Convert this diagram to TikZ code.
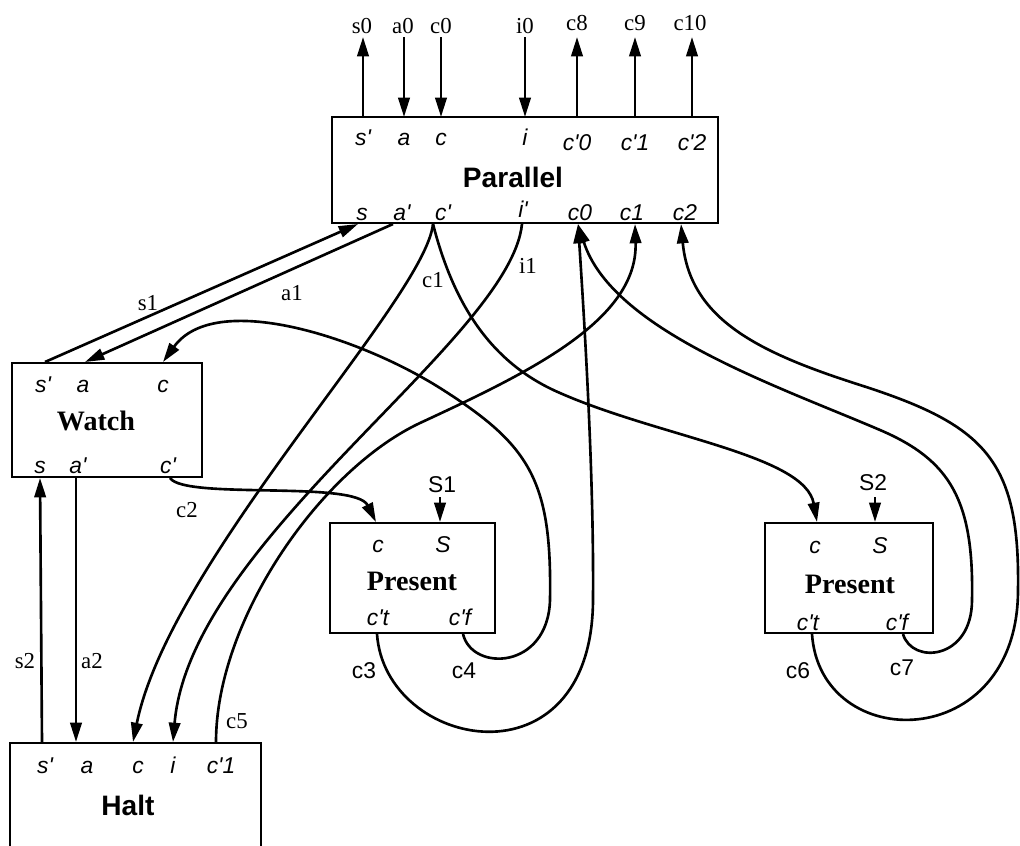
\documentclass[tikz,border=0pt]{standalone}
\usepackage{fontspec}
\setmainfont{Liberation Serif}
\setsansfont{Liberation Sans}
\newfontfamily\pf{Liberation Sans}
\usetikzlibrary{arrows.meta}
\begin{document}
\begin{tikzpicture}[x=0.02cm,y=-0.02cm, line width=1.5pt,
  box/.style={draw, line width=1.5pt, anchor=north west, inner sep=0pt, outer sep=0pt},
  port/.style={font=\pf\itshape\fontsize{13}{13}\selectfont, inner sep=0pt, anchor=base},
  lab/.style={font=\rmfamily\fontsize{13}{13}\selectfont, inner sep=0pt, anchor=base},
  slab/.style={font=\pf\fontsize{13}{13}\selectfont, inner sep=0pt, anchor=base},
  bname/.style={font=\rmfamily\bfseries\fontsize{16}{16}\selectfont, inner sep=0pt, anchor=base},
  sname/.style={font=\pf\bfseries\fontsize{16}{16}\selectfont, inner sep=0pt, anchor=base},
  arr/.style={-{Triangle[length=11pt,width=6.5pt]}},
  wire/.style={line width=1.5pt}
]
\useasboundingbox (0,0) rectangle (1020,845);

% ---------- boxes ----------
\node[box, minimum width=7.72cm, minimum height=2.12cm] (par) at (332,117) {};
\node[box, minimum width=3.8cm, minimum height=2.28cm] (wat) at (12,363) {};
\node[box, minimum width=3.3cm, minimum height=2.2cm] (pr1) at (330,523) {};
\node[box, minimum width=3.36cm, minimum height=2.2cm] (pr2) at (765,523) {};
\begin{scope}
\clip (0,0) rectangle (1020,845);
\node[box, minimum width=5.02cm, minimum height=2.6cm] (hal) at (10,743) {};
\end{scope}

% ---------- box names ----------
\node[sname] (parname) at (513,187) {Parallel};
\node[bname] (watname) at (96,430) {Watch};
\node[bname] (pr1name) at (412,590) {Present};
\node[bname] (pr2name) at (850,593) {Present};
\node[sname] (halname) at (128,815) {Halt};

% ---------- port labels ----------
\node[port] (lp1) at (363,145) {s'};
\node[port] (lp2) at (404,145) {a};
\node[port] (lp3) at (441,145) {c};
\node[port] (lp4) at (525,145) {i};
\node[port] (lp5) at (577,150) {c'0};
\node[port] (lp6) at (635,150) {c'1};
\node[port] (lp7) at (692,150) {c'2};
\node[port] (lp8) at (362,220) {s};
\node[port] (lp9) at (402,220) {a'};
\node[port] (lp10) at (443,220) {c'};
\node[port] (lp11) at (523,217) {i'};
\node[port] (lp12) at (580,220) {c0};
\node[port] (lp13) at (632,220) {c1};
\node[port] (lp14) at (685,220) {c2};

\node[port] (lw1) at (43,392) {s'};
\node[port] (lw2) at (83,392) {a};
\node[port] (lw3) at (163,392) {c};
\node[port] (lw4) at (40,473) {s};
\node[port] (lw5) at (78,473) {a'};
\node[port] (lw6) at (168,473) {c'};

\node[port] (lq1) at (378,552) {c};
\node[port] (lq2) at (443,552) {S};
\node[port] (lq3) at (378,625) {c't};
\node[port] (lq4) at (460,625) {c'f};

\node[port] (lr1) at (815,553) {c};
\node[port] (lr2) at (880,553) {S};
\node[port] (lr3) at (808,630) {c't};
\node[port] (lr4) at (897,630) {c'f};

\node[port] (lh1) at (45,773) {s'};
\node[port] (lh2) at (87,773) {a};
\node[port] (lh3) at (138,773) {c};
\node[port] (lh4) at (173,773) {i};
\node[port] (lh5) at (221,773) {c'1};

% ---------- port coordinates ----------
\coordinate (par-ts) at (363,117);
\coordinate (par-ta) at (404,117);
\coordinate (par-tc) at (441,117);
\coordinate (par-ti) at (525,117);
\coordinate (par-tc0) at (577,117);
\coordinate (par-tc1) at (635,117);
\coordinate (par-tc2) at (692,117);
\coordinate (ext-s0) at (363,37);
\coordinate (ext-a0) at (404,37);
\coordinate (ext-c0) at (441,37);
\coordinate (ext-i0) at (525,37);
\coordinate (ext-c8) at (577,37);
\coordinate (ext-c9) at (635,37);
\coordinate (ext-c10) at (692,37);

\coordinate (par-s) at (358,224);
\coordinate (par-a) at (393,224);
\coordinate (par-c) at (433,224);
\coordinate (par-i) at (522,224);
\coordinate (par-c0) at (578,224);
\coordinate (par-c1) at (635,224);
\coordinate (par-c2) at (681,224);

\coordinate (wat-s) at (45,362);
\coordinate (wat-a) at (85,362);
\coordinate (wat-c) at (163,362);
\coordinate (wat-bs) at (40,478);
\coordinate (wat-ba) at (76,478);
\coordinate (wat-bc) at (170,478);

\coordinate (hal-s) at (42,742);
\coordinate (hal-a) at (76,742);
\coordinate (hal-c) at (133,742);
\coordinate (hal-i) at (173,742);
\coordinate (hal-c1) at (216,742);

\coordinate (p1-c) at (376,522);
\coordinate (p1-S) at (440,522);
\coordinate (p1-Sx) at (440,497);
\coordinate (p1-t) at (377,634);
\coordinate (p1-f) at (463,634);

\coordinate (p2-c) at (817,522);
\coordinate (p2-S) at (875,522);
\coordinate (p2-Sx) at (875,497);
\coordinate (p2-t) at (812,634);
\coordinate (p2-f) at (903,634);

% ---------- top wires ----------
\draw[wire,arr] (par-ts) -- (ext-s0);
\draw[wire,arr] (ext-a0) -- (par-ta);
\draw[wire,arr] (ext-c0) -- (par-tc);
\draw[wire,arr] (ext-i0) -- (par-ti);
\draw[wire,arr] (par-tc0) -- (ext-c8);
\draw[wire,arr] (par-tc1) -- (ext-c9);
\draw[wire,arr] (par-tc2) -- (ext-c10);

\node[lab] (t1) at (362,33) {s0};
\node[lab] (t2) at (403,33) {a0};
\node[lab] (t3) at (441,33) {c0};
\node[lab] (t4) at (525,33) {i0};
\node[lab] (t5) at (577,31) {c8};
\node[lab] (t6) at (635,31) {c9};
\node[lab] (t7) at (690,31) {c10};

% ---------- signal inputs ----------
\draw[wire,arr] (p1-Sx) -- (p1-S);
\draw[wire,arr] (p2-Sx) -- (p2-S);
\node[slab] (S1) at (442,492) {S1};
\node[slab] (S2) at (873,490) {S2};

% ---------- connections ----------
\draw[wire,arr] (wat-s) -- (par-s);
\draw[wire,arr] (par-a) -- (wat-a);
\draw[wire,arr] (hal-s) -- (wat-bs);
\draw[wire,arr] (wat-ba) -- (hal-a);

\draw[wire,arr] (wat-bc) .. controls (185,500) and (355,480) .. (p1-c);
\draw[wire,arr] (par-c) .. controls (425,300) and (170,560) .. (hal-c);
\draw[wire,arr] (par-c) .. controls (455,310) and (495,365) .. (560,393)
   .. controls (660,437) and (805,455) .. (p2-c);
\draw[wire,arr] (par-i) .. controls (510,340) and (190,540) .. (hal-i);
\draw[wire,arr] (hal-c1) .. controls (216,620) and (320,470) .. (420,423)
   .. controls (530,372) and (638,320) .. (par-c1);
\draw[wire,arr] (p1-t) .. controls (385,750) and (592,790) .. (593,600)
   .. controls (594,480) and (585,330) .. (par-c0);
\draw[wire,arr] (p1-f) .. controls (472,672) and (548,670) .. (550,600)
   .. controls (552,480) and (530,445) .. (440,388)
   .. controls (359,337) and (215,290) .. (wat-c);
\draw[wire,arr] (p2-f) .. controls (912,665) and (972,660) .. (972,600)
   .. controls (974,500) and (950,460) .. (880,430)
   .. controls (775,385) and (612,330) .. (par-c0);
\draw[wire,arr] (p2-t) .. controls (820,755) and (1018,755) .. (1018,590)
   .. controls (1020,460) and (985,425) .. (860,385)
   .. controls (760,353) and (690,320) .. (par-c2);

% ---------- wire labels ----------
\node[lab] (ls1) at (148,310) {s1};
\node[lab] (la1) at (292,300) {a1};
\node[lab] (lc1) at (433,287) {c1};
\node[lab] (li1) at (528,273) {i1};
\node[lab] (lc2) at (187,517) {c2};
\node[slab] (lc3) at (364,678) {c3};
\node[slab] (lc4) at (464,678) {c4};
\node[lab] (lc5) at (237,728) {c5};
\node[slab] (lc6) at (798,678) {c6};
\node[slab] (lc7) at (902,675) {c7};
\node[lab] (ls2) at (25,668) {s2};
\node[lab] (la2) at (92,668) {a2};
\end{tikzpicture}
\end{document}
